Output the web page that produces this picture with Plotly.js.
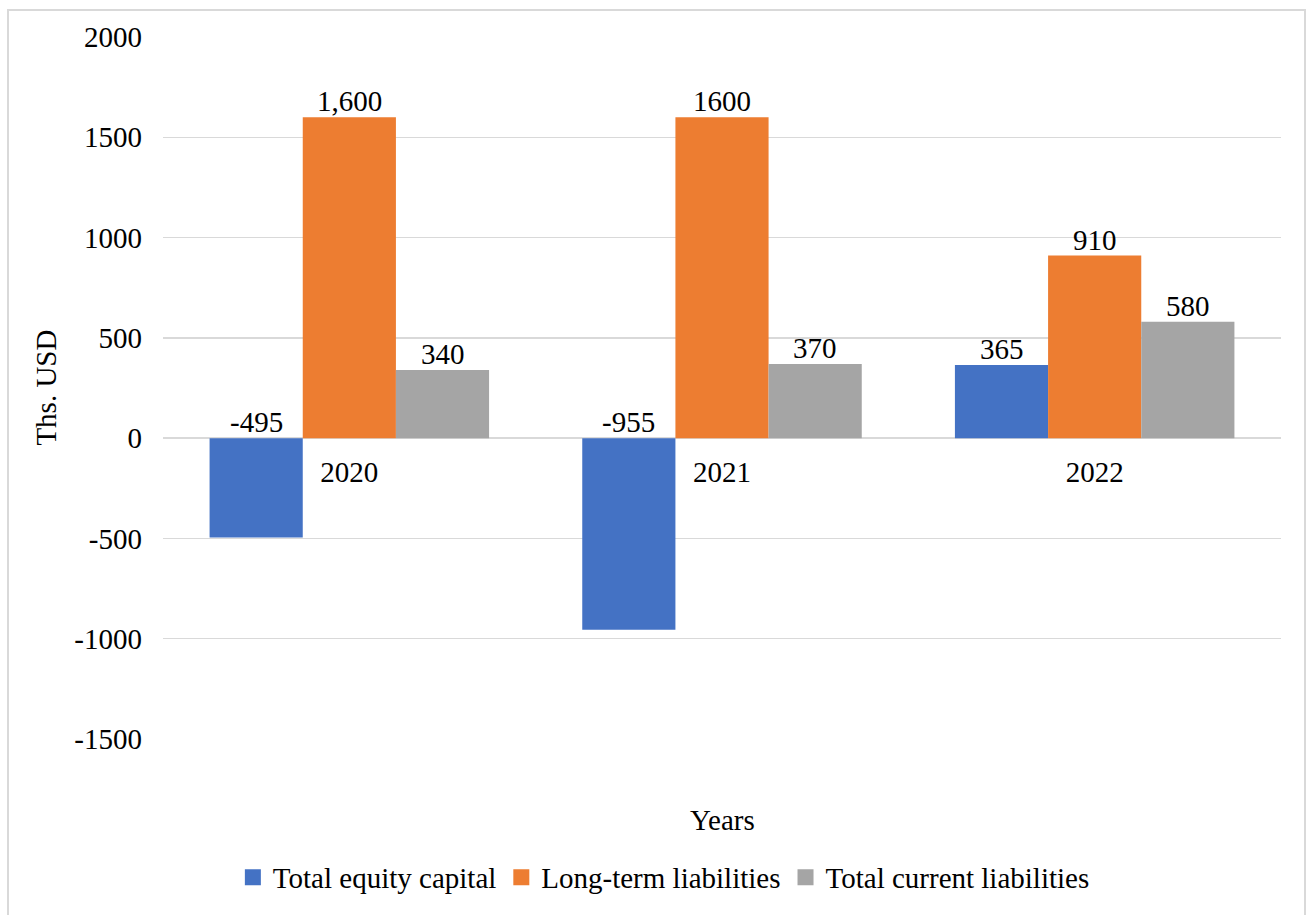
<!DOCTYPE html>
<html>
<head>
<meta charset="utf-8">
<script src="https://cdn.plot.ly/plotly-3.0.1.min.js"></script>
<style>
  html, body { margin: 0; padding: 0; background: #ffffff; overflow: hidden; }
  #frame { position: absolute; left: 7px; top: 9px; width: 1299px; height: 920px; border: 2px solid #d9d9d9; box-sizing: border-box; }
  #chart { position: absolute; left: 0; top: 0; width: 1312px; height: 915px; }
</style>
</head>
<body>
<div id="frame"></div>
<div id="chart"></div>
<script>
const years = ["2020", "2021", "2022"];
const seriesNames = ["Total equity capital", "Long-term liabilities", "Total current liabilities"];
const equity = [-495, -955, 365];
const longTerm = [1600, 1600, 910];
const current = [340, 370, 580];
const equityLabels = ["-495", "-955", "365"];
const longTermLabels = ["1,600", "1600", "910"];
const currentLabels = ["340", "370", "580"];
const yTicks = [-1500, -1000, -500, 0, 500, 1000, 1500, 2000];

const colors = ["#4472c4", "#ed7d31", "#a5a5a5"];
const font = "Liberation Serif, Times New Roman, serif";
const fs = 29;

const seriesVals = [equity, longTerm, current];
const seriesLbls = [equityLabels, longTermLabels, currentLabels];

const traces = seriesVals.map((vals, i) => ({
  type: "bar",
  name: seriesNames[i],
  x: years,
  y: vals,
  marker: { color: colors[i] },
  showlegend: false,
  hoverinfo: "skip"
}));
// legend entries with larger square swatches
seriesNames.forEach((n, i) => {
  traces.push({
    type: "scatter",
    mode: "markers",
    name: n,
    x: [null],
    y: [null],
    marker: { symbol: "square", size: 18, color: colors[i] },
    showlegend: true,
    hoverinfo: "skip"
  });
});

const bargap = 0.25;
const barW = (1 - bargap) / 3;
const annotations = [];
seriesVals.forEach((vals, s) => {
  vals.forEach((v, c) => {
    annotations.push({
      xref: "x", yref: "y",
      x: c + (s - 1) * barW,
      y: Math.max(v, 0),
      text: seriesLbls[s][c],
      showarrow: false,
      yanchor: "bottom",
      xanchor: "center",
      yshift: -2,
      font: { family: font, size: fs, color: "#000" }
    });
  });
});
annotations.push({
  xref: "paper", yref: "paper", x: 0.5, y: -0.115,
  xanchor: "center", yanchor: "middle",
  text: "Years", showarrow: false,
  font: { family: font, size: fs, color: "#000" }
});
annotations.push({
  xref: "paper", yref: "paper", x: -0.105, y: 0.5,
  xanchor: "center", yanchor: "middle", textangle: -90,
  text: "Ths. USD", showarrow: false,
  font: { family: font, size: fs, color: "#000" }
});

const layout = {
  width: 1312, height: 915,
  margin: { l: 163, r: 31, t: 37, b: 174 },
  paper_bgcolor: "rgba(0,0,0,0)",
  plot_bgcolor: "rgba(0,0,0,0)",
  barmode: "group",
  bargap: bargap,
  bargroupgap: 0,
  font: { family: font, size: fs, color: "#000" },
  xaxis: {
    type: "category",
    categoryorder: "array",
    categoryarray: years,
    anchor: "free",
    position: 1500 / 3500,
    showline: false,
    showgrid: false,
    zeroline: false,
    ticks: "",
    ticklabelstandoff: 14,
    tickfont: { family: font, size: fs, color: "#000" }
  },
  yaxis: {
    range: [-1500, 2000],
    tickvals: yTicks,
    ticktext: yTicks.map(String),
    showgrid: true,
    gridcolor: "#d9d9d9",
    gridwidth: 1.5,
    zeroline: true,
    zerolinecolor: "#d9d9d9",
    zerolinewidth: 1.5,
    showline: false,
    ticks: "",
    ticklabelstandoff: 20,
    tickfont: { family: font, size: fs, color: "#000" }
  },
  showlegend: true,
  legend: {
    orientation: "h",
    x: 0.448, xanchor: "center",
    y: -0.197, yanchor: "middle",
    font: { family: font, size: fs, color: "#000" },
    traceorder: "normal",
    itemclick: false
  },
  annotations: annotations
};

Plotly.newPlot("chart", traces, layout, { displayModeBar: false, staticPlot: true });
</script>
</body>
</html>
